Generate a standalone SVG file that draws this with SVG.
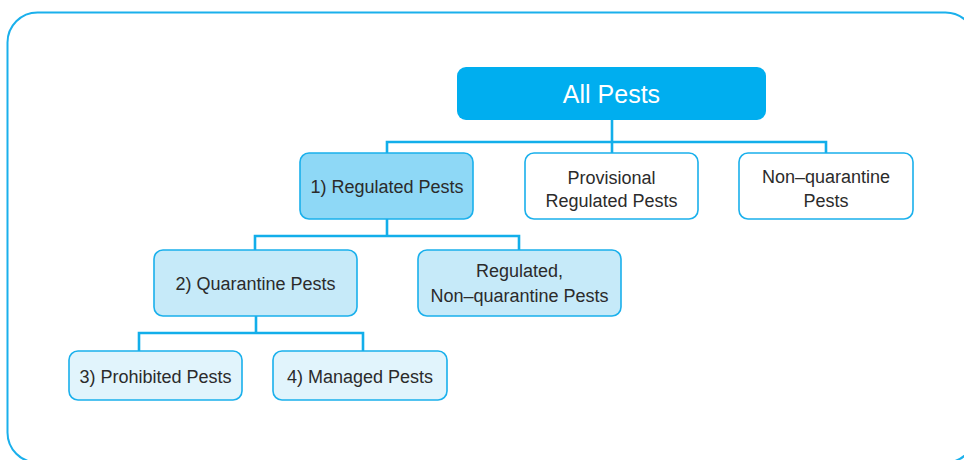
<svg xmlns="http://www.w3.org/2000/svg" width="964" height="460" viewBox="0 0 964 460">
  <style>
    .frame { fill: #ffffff; stroke: #1AB0EC; stroke-width: 2; }
    .box { stroke: #1AB0EC; stroke-width: 1.6; }
    .t { font-family: "Liberation Sans", Arial, sans-serif; font-size: 18px; fill: #2b2b2b; text-anchor: middle; }
    .conn { fill: none; stroke: #12AEEA; stroke-width: 2.6; }
  </style>
  <rect x="0" y="0" width="964" height="460" fill="#ffffff"/>
  <rect class="frame" x="7.5" y="12.5" width="968" height="450" rx="30" ry="30"/>

  <g id="connectors">
    <path class="conn" d="M612 120 V142 M387 153 V142 H826 V153 M612 142 V153"/>
    <path class="conn" d="M387 219 V236 M255 250 V236 H519 V250"/>
    <path class="conn" d="M256 316 V333 M139 351 V333 H363 V351"/>
  </g>

  <g id="all-pests">
    <rect x="457" y="67" width="309" height="53" rx="9" fill="#00AEEF"/>
    <text class="t" x="611.5" y="103" style="font-size:25px;fill:#ffffff">All Pests</text>
  </g>

  <g id="regulated-pests">
    <rect class="box" x="300" y="153" width="173" height="66" rx="9" fill="#8ED8F6"/>
    <text class="t" x="387" y="193">1) Regulated Pests</text>
  </g>

  <g id="provisional">
    <rect class="box" x="525" y="153" width="173" height="66" rx="9" fill="#ffffff"/>
    <text class="t" x="611.5" y="184">Provisional</text>
    <text class="t" x="611.5" y="207">Regulated Pests</text>
  </g>

  <g id="non-quarantine">
    <rect class="box" x="739" y="153" width="174" height="66" rx="9" fill="#ffffff"/>
    <text class="t" x="826" y="183">Non–quarantine</text>
    <text class="t" x="826" y="207">Pests</text>
  </g>

  <g id="quarantine-pests">
    <rect class="box" x="154" y="250" width="203" height="66" rx="9" fill="#C6EAF9"/>
    <text class="t" x="255.5" y="290">2) Quarantine Pests</text>
  </g>

  <g id="regulated-non-quarantine">
    <rect class="box" x="418" y="250" width="203" height="66" rx="9" fill="#C6EAF9"/>
    <text class="t" x="519.5" y="277">Regulated,</text>
    <text class="t" x="519.5" y="302">Non–quarantine Pests</text>
  </g>

  <g id="prohibited-pests">
    <rect class="box" x="69" y="351" width="173" height="49" rx="9" fill="#E1F4FC"/>
    <text class="t" x="155.5" y="383">3) Prohibited Pests</text>
  </g>

  <g id="managed-pests">
    <rect class="box" x="273" y="351" width="174" height="49" rx="9" fill="#E1F4FC"/>
    <text class="t" x="360" y="383">4) Managed Pests</text>
  </g>
</svg>
